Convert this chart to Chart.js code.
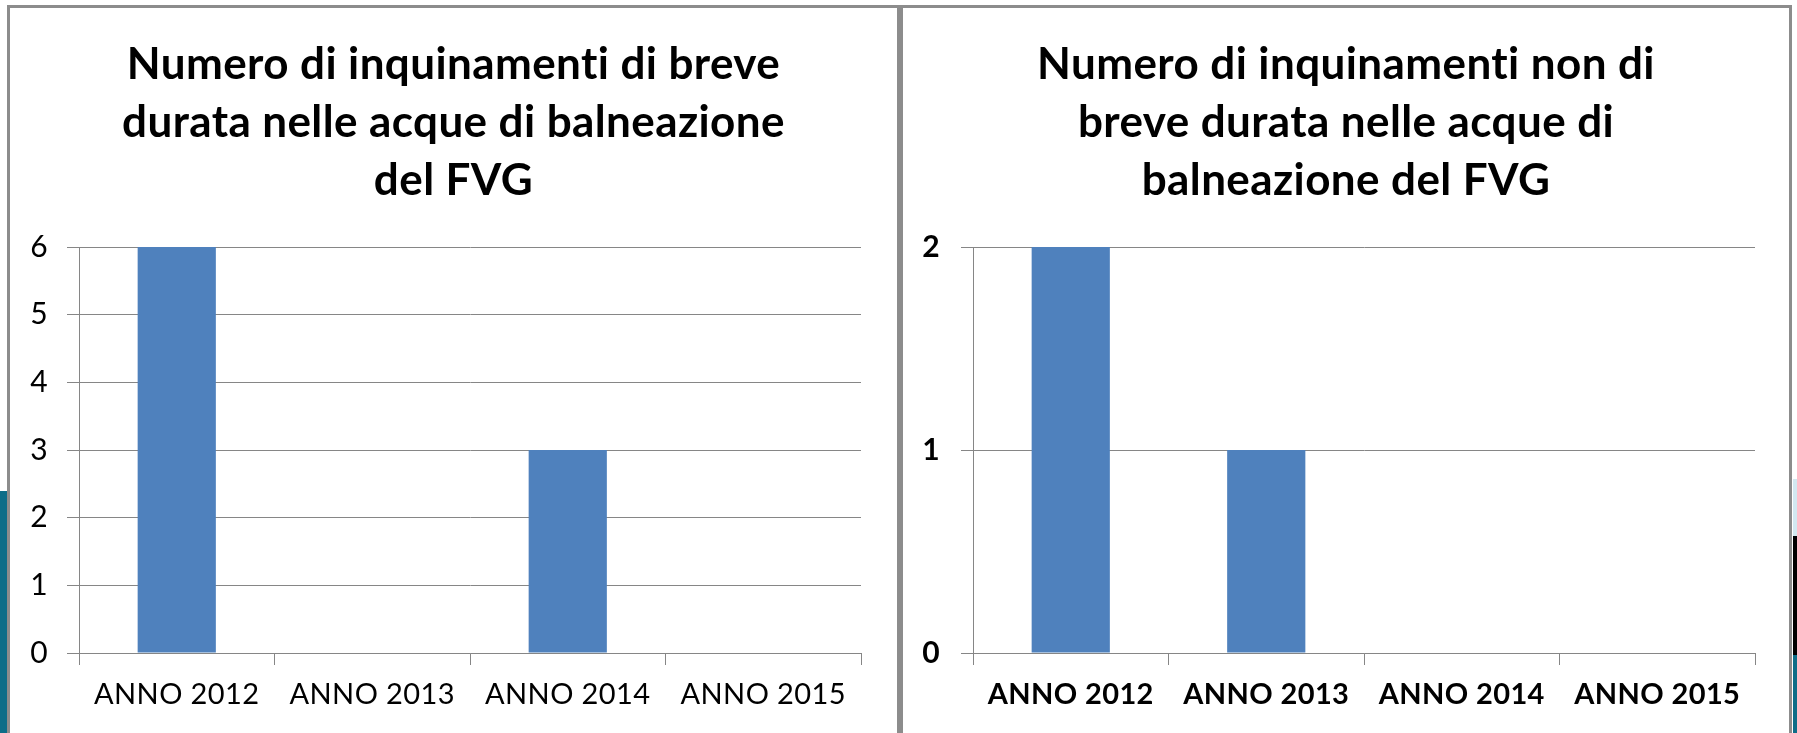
<!DOCTYPE html>
<html>
<head>
<meta charset="utf-8">
<script src="https://cdn.jsdelivr.net/npm/chart.js@4/dist/chart.umd.min.js"></script>
<style>
  html, body { margin: 0; padding: 0; background: #ffffff; }
  body { width: 1797px; height: 733px; position: relative; overflow: hidden; }
  .strip { position: absolute; }
  .panel { position: absolute; top: 5px; height: 740px; background: #ffffff;
           border-top: 3px solid #8c8c8c; border-left: 3px solid #8c8c8c; border-right: 3px solid #8c8c8c; }
  canvas { position: absolute; }
</style>
</head>
<body>
<div class="strip" style="left:0;top:491px;width:7px;height:242px;background:#0d6d88"></div>
<div class="strip" style="left:1793px;top:479px;width:4px;height:57px;background:#d3e8f0"></div>
<div class="strip" style="left:1793px;top:536px;width:4px;height:119px;background:#000000"></div>
<div class="strip" style="left:1793px;top:655px;width:4px;height:78px;background:#0d6d88"></div>

<div class="panel" style="left:7px;width:887px"></div>
<div class="panel" style="left:900px;width:886px"></div>

<canvas id="breve" width="887" height="725" style="left:10px;top:8px"></canvas>
<canvas id="nonBreve" width="886" height="725" style="left:903px;top:8px"></canvas>

<script>
// categories shared by both charts
const anni = ['ANNO 2012', 'ANNO 2013', 'ANNO 2014', 'ANNO 2015'];

// left chart: short-duration pollution events
const titoloBreve = ['Numero di inquinamenti di breve', 'durata nelle acque di balneazione', 'del FVG'];
const valoriBreve = [6, 0, 3, 0];
const maxBreve = 6;

// right chart: non short-duration pollution events
const titoloNonBreve = ['Numero di inquinamenti non di', 'breve durata nelle acque di', 'balneazione del FVG'];
const valoriNonBreve = [2, 1, 0, 0];
const maxNonBreve = 2;

const FONT = "Lato, 'Liberation Sans', sans-serif";
const GRID = '#868686';
const BAR = '#4f81bd';

// Lato turns "ti" into a ligature, a little spacing switches that off
const noLigatures = {
  id: 'noLigatures',
  beforeDraw(chart) {
    chart.ctx.letterSpacing = '0.4px';
    chart.ctx.textRendering = 'optimizeSpeed';
  }
};

/**
 * Builds one Excel-like column chart
 * an empty axis on the right keeps the gap there without moving the title off centre
 */
function makeChart(id, title, values, yMax, opts) {
  const ctx = document.getElementById(id).getContext('2d');
  return new Chart(ctx, {
    type: 'bar',
    data: {
      labels: anni,
      datasets: [{
        data: values,
        yAxisID: 'y',
        backgroundColor: BAR,
        borderWidth: 0,
        barPercentage: 0.4,
        categoryPercentage: 1.0
      }]
    },
    plugins: [noLigatures],
    options: {
      responsive: false,
      animation: false,
      devicePixelRatio: 1,
      layout: { padding: 0 },
      plugins: {
        legend: { display: false },
        tooltip: { enabled: false },
        title: {
          display: true,
          text: title,
          color: '#000000',
          font: { family: FONT, size: 44, weight: 'bold', lineHeight: 58 / 44 },
          padding: { top: 28, bottom: 37 }
        }
      },
      scales: {
        x: {
          offset: true,
          grid: { display: true, offset: true, drawOnChartArea: false, drawTicks: true, tickLength: 12, color: GRID, lineWidth: 1 },
          border: { display: true, color: GRID, width: 1 },
          ticks: {
            color: '#000000',
            padding: 12,
            maxRotation: 0,
            font: { family: FONT, size: 29, weight: opts.bold ? 'bold' : 'normal' }
          },
          afterFit: function (scale) { scale.height = 80; }
        },
        y: {
          min: 0,
          max: yMax,
          grid: { color: GRID, lineWidth: 1, drawTicks: true, tickLength: 12 },
          border: { display: true, color: GRID, width: 1 },
          ticks: {
            stepSize: 1,
            color: '#000000',
            padding: opts.yPad,
            font: { family: FONT, size: 30, weight: opts.bold ? 'bold' : 'normal' }
          },
          afterFit: function (scale) { scale.width = opts.yWidth; }
        },
        spacer: {
          type: 'linear',
          position: 'right',
          display: true,
          grid: { display: false, drawTicks: false },
          border: { display: false },
          ticks: { display: false },
          afterFit: function (scale) { scale.width = opts.rightGap; }
        }
      }
    }
  });
}

makeChart('breve', titoloBreve, valoriBreve, maxBreve, { yWidth: 69, rightGap: 36, yPad: 19, bold: false });
makeChart('nonBreve', titoloNonBreve, valoriNonBreve, maxNonBreve, { yWidth: 70, rightGap: 34, yPad: 21, bold: true });
</script>
</body>
</html>
